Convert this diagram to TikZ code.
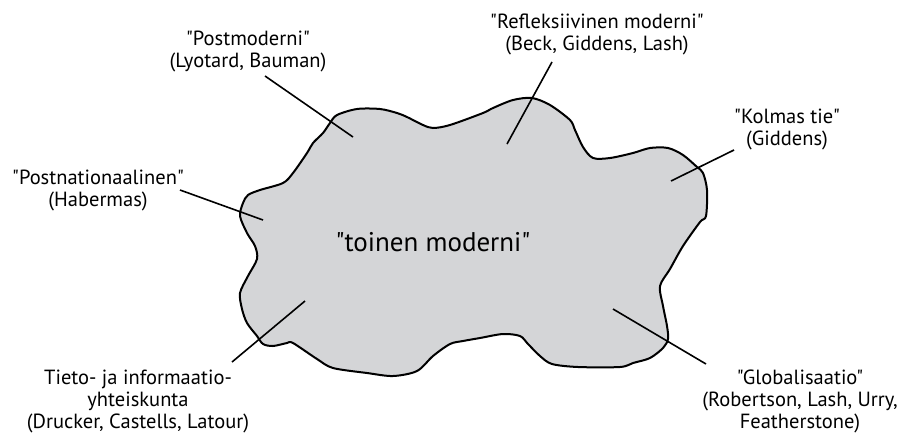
\documentclass[tikz,border=0pt]{standalone}
\usepackage{fontspec}
\setmainfont{PT Sans}[Ligatures=TeXOff]
\definecolor{blobgray}{RGB}{212,213,215}

\begin{document}
\begin{tikzpicture}[x=1pt, y=-1pt, font=\fontsize{20.5}{22}\selectfont,
    label/.style={align=center, inner sep=0pt},
    leader/.style={line width=1.6pt},
    blob/.style={fill=blobgray, draw=black, line width=2pt, line join=round}]
    \useasboundingbox (0,0) rectangle (901,432);

    % the cloud
    \draw[blob] plot[smooth cycle, tension=0.5] coordinates {
        (240,216) (243,203) (248,195) (260,190) (283,183) (293,173) (307,153)
        (313,143) (323,133) (330,123) (337,115) (357,109) (380,109) (397,113)
        (407,117) (423,125) (433,128) (450,125) (483,113) (493,108) (513,100)
        (532,98) (550,105) (570,120) (575,130) (583,147) (593,158) (610,158)
        (633,153) (650,148) (668,148) (683,155) (697,167) (703,173) (707,190)
        (706,216) (700,222) (683,246) (670,269) (660,286) (663,306) (667,326)
        (668,339) (663,348) (650,358) (633,363) (620,367) (578,367) (552,364)
        (540,356) (528,344) (520,336) (503,334) (480,338) (463,341) (450,344)
        (433,356) (417,371) (393,376) (367,373) (333,368) (317,359) (293,343)
        (287,343) (273,346) (263,344) (257,336) (247,323) (242,309) (240,293)
        (248,276) (257,259) (255,246) (247,233)};

    \node[font=\fontsize{27}{30}\selectfont] (toinen) at (433,242) {"toinen moderni"};

    % labels
    \node[label] (post) at (248,51) {"Postmoderni"\\(Lyotard, Bauman)};
    \node[label] (nation) at (98,190) {"Postnationaalinen"\\(Habermas)};
    \node[label] (refl) at (597,34) {"Refleksiivinen moderni"\\(Beck, Giddens, Lash)};
    \node[label] (kolmas) at (787,129) {"Kolmas tie"\\(Giddens)};
    \node[label] (tieto) at (138,401) {Tieto- ja informaatio-\\yhteiskunta\\(Drucker, Castells, Latour)};
    \node[label] (glob) at (800,401) {"Globalisaatio"\\(Robertson, Lash, Urry,\\Featherstone)};

    % leader lines
    \coordinate (post-a) at (265,76);   \coordinate (post-b) at (353,137);
    \coordinate (nation-a) at (180,190); \coordinate (nation-b) at (263,220);
    \coordinate (refl-a) at (552,62);   \coordinate (refl-b) at (507,144);
    \coordinate (kolmas-a) at (734,150); \coordinate (kolmas-b) at (671,181);
    \coordinate (tieto-a) at (232,362); \coordinate (tieto-b) at (305,301);
    \coordinate (glob-a) at (706,364);  \coordinate (glob-b) at (613,309);

    \draw[leader] (post-a) -- (post-b);
    \draw[leader] (nation-a) -- (nation-b);
    \draw[leader] (refl-a) -- (refl-b);
    \draw[leader] (kolmas-a) -- (kolmas-b);
    \draw[leader] (tieto-a) -- (tieto-b);
    \draw[leader] (glob-a) -- (glob-b);
\end{tikzpicture}
\end{document}
